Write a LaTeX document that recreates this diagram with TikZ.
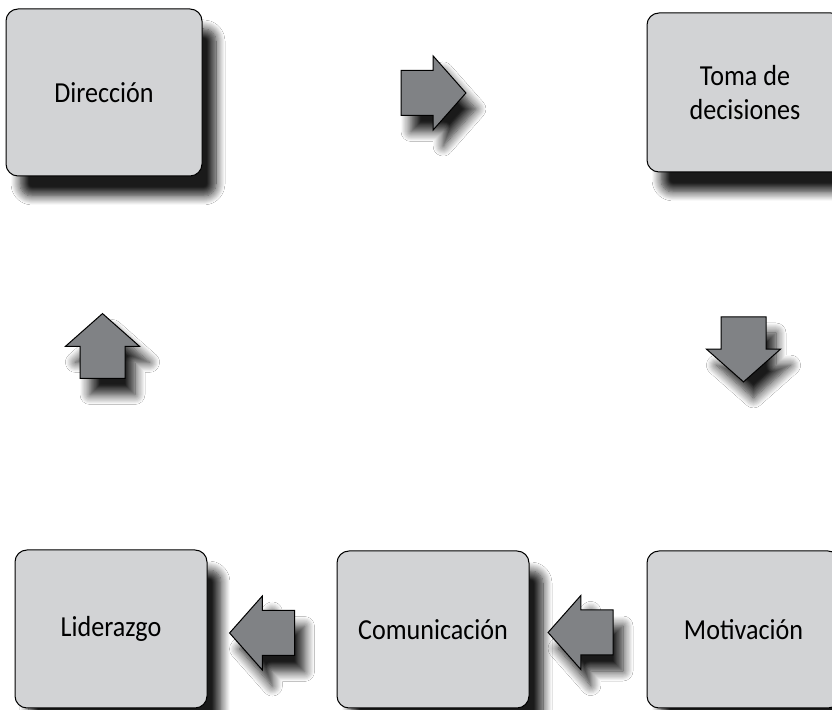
\documentclass[tikz,border=0pt]{standalone}
\usepackage{fontspec}
\setmainfont{Carlito}[FakeStretch=0.9]
\usetikzlibrary{shapes.arrows,shadows.blur}
\definecolor{boxgray}{RGB}{210,211,213}
\definecolor{arrowgray}{RGB}{128,130,133}

\begin{document}
\begin{tikzpicture}[
  x=0.5pt,y=-0.5pt,
  font=\fontsize{14.5}{17}\selectfont,
  stage/.style={draw=black,line width=0.5pt,rounded corners=6pt,fill=boxgray,
    align=center,inner sep=0pt,
    blur shadow={shadow xshift=7pt,shadow yshift=-10pt,shadow blur radius=4.5pt,
      shadow blur steps=10,shadow opacity=90}},
  flow/.style={single arrow,draw=black,line width=0.5pt,fill=arrowgray,
    inner sep=11pt,
    minimum width=36.5pt,minimum height=32pt,single arrow head extend=7.25pt,
    single arrow tip angle=97,
    blur shadow={shadow xshift=5pt,shadow yshift=-8pt,shadow blur radius=5pt,
      shadow blur steps=10,shadow opacity=90}}
]
\useasboundingbox[fill=white] (0,0) rectangle (832,710);

% boxes
\node[stage,minimum width=98pt,minimum height=83.5pt] (dir) at (104,92.5) {Dirección};
\node[stage,minimum width=98pt,minimum height=79.5pt] (toma) at (745,92.5) {Toma de\\decisiones};
\node[stage,minimum width=96.5pt,minimum height=78.5pt] (mot) at (743.5,629.5) {Motivación};
\node[stage,minimum width=96pt,minimum height=78.5pt] (com) at (433,629.5) {Comunicación};
\node[stage,minimum width=96pt,minimum height=79pt] (lid) at (111,629) {Liderazgo};

% arrows
\node[flow,shape border rotate=0] (a1) at (423.5,93) {};
\node[flow,shape border rotate=270] (a2) at (743.5,339.5) {};
\node[flow,shape border rotate=180] (a3) at (590.5,632.5) {};
\node[flow,shape border rotate=180] (a4) at (272,633) {};
\node[flow,shape border rotate=90] (a5) at (102.5,356) {};
\end{tikzpicture}
\end{document}
